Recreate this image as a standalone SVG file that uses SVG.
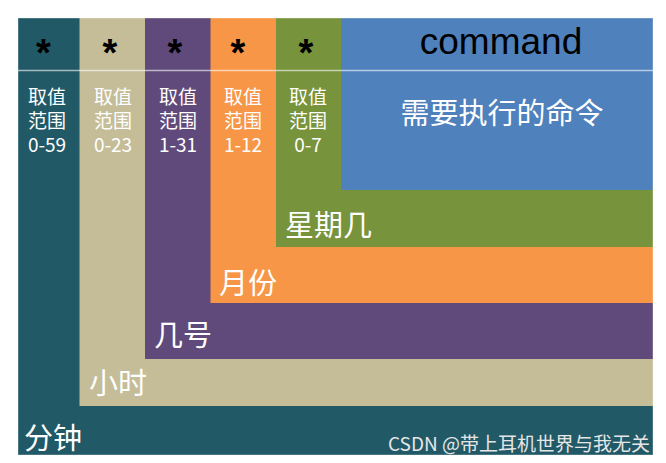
<svg xmlns="http://www.w3.org/2000/svg" width="666" height="463" viewBox="0 0 666 463">
<style>
.star{font-family:"Liberation Sans",Arial,sans-serif;font-weight:bold;font-size:38px;fill:#000;text-anchor:middle}
.rng{font-family:"Noto Sans CJK SC","DejaVu Sans",sans-serif;font-size:19px;fill:#fff;text-anchor:middle}
.lbl{font-family:"Noto Sans CJK SC",sans-serif;font-size:29px;fill:#fff}
.cmd{font-family:"Liberation Sans",Arial,sans-serif;font-size:37px;fill:#000;text-anchor:middle}
.wm{font-family:"Noto Sans CJK SC",sans-serif;font-size:19px;fill:#e6e6e6;text-anchor:end}
</style>
<rect width="666" height="463" fill="#fff"/>
<g id="minute">
<rect x="18" y="18" width="635" height="437" fill="#215967"/>
<text class="star" x="43.5" y="66">*</text>
<text class="rng" x="47" y="104">取值</text>
<text class="rng" x="47" y="128">范围</text>
<text class="rng" x="47" y="152">0-59</text>
<text class="lbl" x="24" y="449">分钟</text>
</g>
<g id="hour">
<rect x="79.5" y="18" width="573.5" height="388" fill="#C4BD97"/>
<text class="star" x="110" y="66">*</text>
<text class="rng" x="113" y="104">取值</text>
<text class="rng" x="113" y="128">范围</text>
<text class="rng" x="113" y="152">0-23</text>
<text class="lbl" x="89" y="394">小时</text>
</g>
<g id="day">
<rect x="145" y="18" width="508" height="341" fill="#604A7B"/>
<text class="star" x="175" y="66">*</text>
<text class="rng" x="178" y="104">取值</text>
<text class="rng" x="178" y="128">范围</text>
<text class="rng" x="178" y="152">1-31</text>
<text class="lbl" x="154" y="346">几号</text>
</g>
<g id="month">
<rect x="210.5" y="18" width="442.5" height="285" fill="#F79646"/>
<text class="star" x="238" y="66">*</text>
<text class="rng" x="243" y="104">取值</text>
<text class="rng" x="243" y="128">范围</text>
<text class="rng" x="243" y="152">1-12</text>
<text class="lbl" x="219" y="294">月份</text>
</g>
<g id="weekday">
<rect x="276" y="18" width="377" height="229" fill="#77933C"/>
<text class="star" x="306" y="66">*</text>
<text class="rng" x="308" y="104">取值</text>
<text class="rng" x="308" y="128">范围</text>
<text class="rng" x="308" y="152">0-7</text>
<text class="lbl" x="285" y="236">星期几</text>
</g>
<g id="command">
<rect x="341" y="18" width="312" height="172" fill="#4F81BD"/>
<text class="cmd" x="501" y="54">command</text>
<text class="lbl" x="502" y="124" text-anchor="middle" style="font-size:29px">需要执行的命令</text>
</g>
<g id="connectors">
<line x1="18" y1="70.5" x2="653" y2="70.5" stroke="#fff" stroke-opacity="0.6" stroke-width="1.5"/>
<rect x="18" y="18" width="635" height="437" fill="none" stroke="#fff" stroke-opacity="0.35" stroke-width="1"/>
</g>
<text class="wm" x="650" y="451">CSDN @带上耳机世界与我无关</text>
</svg>
